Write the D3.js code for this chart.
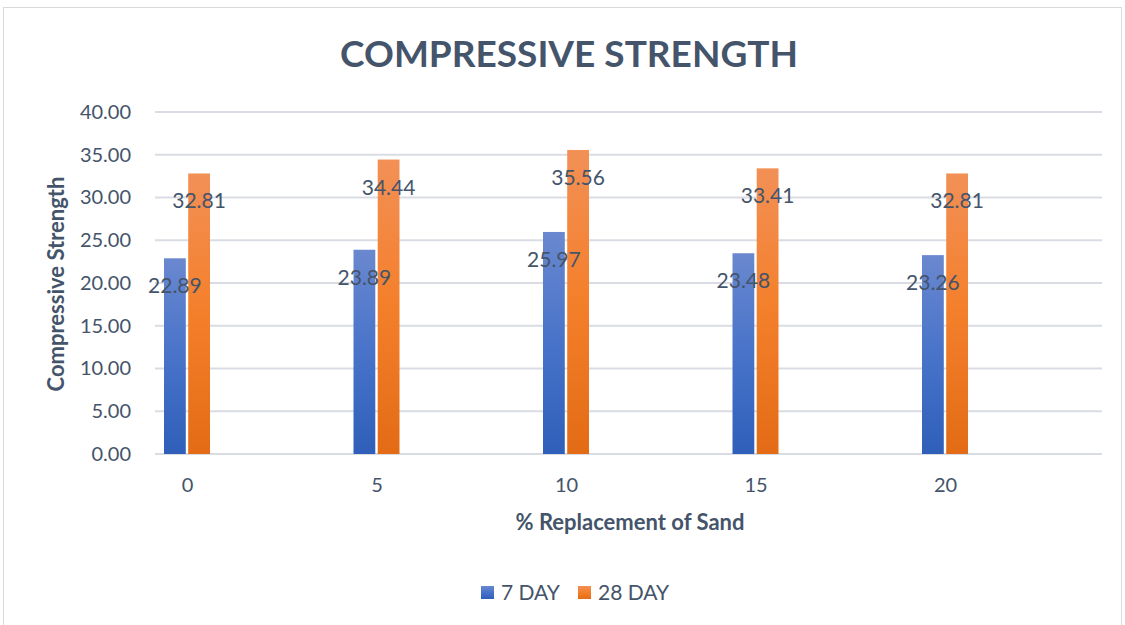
<!DOCTYPE html>
<html>
<head>
<meta charset="utf-8">
<script src="https://d3js.org/d3.v7.min.js"></script>
<style>
	body {
		padding: 0;
		margin: 0;
		background: #fff;
	}
	text {
		font-family: Lato, "Open Sans", sans-serif;
		fill: #44546a;
	}
	.grid line {
		stroke: #d9dde3;
		stroke-width: 2;
	}
</style>
</head>
<body>
<div id="content"></div>
<script>

// Chart data
var categories = ['0', '5', '10', '15', '20'];
var seriesNames = ['7 DAY', '28 DAY'];
var day7 = [22.89, 23.89, 25.97, 23.48, 23.26];
var day28 = [32.81, 34.44, 35.56, 33.41, 32.81];
var yTicks = [0, 5, 10, 15, 20, 25, 30, 35, 40];

var w = 1125;
var h = 625;

// Plot area
var plotLeft = 155, plotRight = 1102, plotTop = 112, plotBottom = 454;

var svg = d3.select('#content')
	.append('svg')
	.attr('width', w)
	.attr('height', h);

// Gradients for the bars
var defs = svg.append('defs');
function grad(id, c1, c2, c3) {
	var g = defs.append('linearGradient')
		.attr('id', id)
		.attr('x1', 0).attr('y1', 0)
		.attr('x2', 0).attr('y2', 1);
	g.append('stop').attr('offset', '0%').attr('stop-color', c1);
	g.append('stop').attr('offset', '50%').attr('stop-color', c2);
	g.append('stop').attr('offset', '100%').attr('stop-color', c3);
}
grad('gBlue', '#6a88cf', '#4873c9', '#2f5fb9');
grad('gOrange', '#f29056', '#f47f2a', '#e36b16');
var fills = ['url(#gBlue)', 'url(#gOrange)'];

// Chart border
svg.append('rect')
	.attr('x', 3.5).attr('y', 7.5)
	.attr('width', w - 7).attr('height', h)
	.attr('fill', 'none')
	.attr('stroke', '#d9d9d9')
	.attr('stroke-width', 1);

// Scales
var y = d3.scaleLinear().domain([0, 40]).range([plotBottom, plotTop]);
var x0 = d3.scalePoint().domain(categories).range([187, 945]);
var x1 = d3.scaleBand().domain([0, 1]).range([-23, 23]).paddingInner(0.1);

// Gridlines
svg.append('g')
	.attr('class', 'grid')
	.selectAll('line')
	.data(yTicks)
	.enter().append('line')
	.attr('x1', plotLeft)
	.attr('x2', plotRight)
	.attr('y1', d => y(d))
	.attr('y2', d => y(d));

// Y axis labels
var yAxis = svg.append('g')
	.attr('transform', 'translate(' + 143 + ',0)')
	.call(d3.axisLeft(y).tickValues(yTicks).tickFormat(d3.format('.2f')).tickSize(0).tickPadding(12));
yAxis.select('.domain').remove();
yAxis.selectAll('text').style('font-size', '20px').attr('fill', '#44546a');

// X axis labels
var xAxis = svg.append('g')
	.attr('transform', 'translate(0,' + (plotBottom + 20) + ')')
	.call(d3.axisBottom(x0).tickSize(0).tickPadding(4));
xAxis.select('.domain').remove();
xAxis.selectAll('text').style('font-size', '20px').attr('fill', '#44546a');

// Bars first, then the value labels on top of all bars
var series = [day7, day28];
var barLayer = svg.append('g');
var labelLayer = svg.append('g');
series.forEach(function(vals, si) {
	barLayer.append('g').selectAll('rect')
		.data(vals)
		.enter().append('rect')
		.attr('x', (d, i) => x0(categories[i]) + x1(si))
		.attr('width', x1.bandwidth())
		.attr('y', d => y(d))
		.attr('height', d => y(0) - y(d))
		.attr('fill', fills[si]);
	labelLayer.append('g').selectAll('text')
		.data(vals)
		.enter().append('text')
		.attr('x', (d, i) => x0(categories[i]) + x1(si) + x1.bandwidth() / 2)
		.attr('y', d => y(d) + 35)
		.attr('text-anchor', 'middle')
		.style('font-size', '21px')
		.text(d => d3.format('.2f')(d));
});

// Title
svg.append('text')
	.attr('x', 569)
	.attr('y', 67)
	.attr('text-anchor', 'middle')
	.style('font-size', '37px')
	.style('font-weight', 'bold')
	.text('COMPRESSIVE STRENGTH');

// Axis titles
svg.append('text')
	.attr('transform', 'translate(64,284) rotate(-90)')
	.attr('text-anchor', 'middle')
	.style('font-size', '22px')
	.style('font-weight', 'bold')
	.text('Compressive Strength');

svg.append('text')
	.attr('x', 630)
	.attr('y', 530)
	.attr('text-anchor', 'middle')
	.style('font-size', '22px')
	.style('font-weight', 'bold')
	.text('% Replacement of Sand');

// Legend
var legendX = [481, 578];
seriesNames.forEach(function(name, i) {
	svg.append('rect')
		.attr('x', legendX[i]).attr('y', 586)
		.attr('width', 13).attr('height', 13)
		.attr('fill', fills[i]);
	svg.append('text')
		.attr('x', legendX[i] + 20)
		.attr('y', 600)
		.style('font-size', '21px')
		.text(name);
});

</script>
</body>
</html>
